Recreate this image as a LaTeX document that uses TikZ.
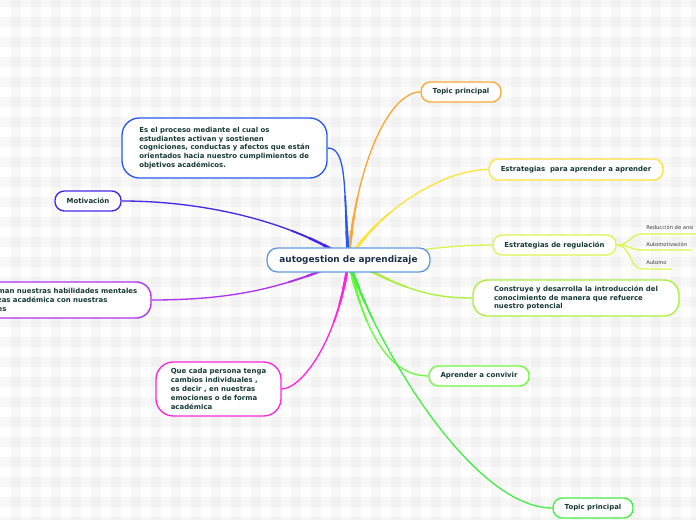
\documentclass[tikz,border=0pt]{standalone}
\usepackage{fontspec}
\setmainfont{DejaVu Sans}
\pgfdeclarelayer{grid}
\pgfdeclarelayer{edges}
\pgfsetlayers{grid,edges,main}
\definecolor{txt}{RGB}{22,58,52}
\definecolor{ctxt}{RGB}{28,48,72}
\definecolor{subtxt}{RGB}{60,60,60}
\definecolor{cblue}{RGB}{95,155,220}
\definecolor{corange}{RGB}{247,168,52}
\definecolor{cyellow}{RGB}{255,226,60}
\definecolor{clime}{RGB}{222,245,80}
\definecolor{cyg}{RGB}{170,240,60}
\definecolor{cgreen}{RGB}{110,250,60}
\definecolor{cgreen2}{RGB}{70,238,70}
\definecolor{cbl}{RGB}{40,90,240}
\definecolor{cviolet}{RGB}{70,40,230}
\definecolor{cpurple}{RGB}{175,50,240}
\definecolor{cmag}{RGB}{250,40,220}
\tikzset{
  box/.style={draw, fill=white, line width=1pt, rounded corners=7pt,
    font=\bfseries\fontsize{5.2}{6.6}\selectfont, text=txt, align=left, inner sep=0pt},
  bigbox/.style={box, rounded corners=11pt},
  link/.style={line width=1pt},
  subitem/.style={font=\fontsize{3.9}{4.6}\selectfont, text=subtxt, inner sep=0pt, anchor=base west},
}
\newcommand{\drawlinks}[1]{%
  \draw[link,#1,corange] (c.center) .. controls +(8,-100) and +(-30,0) .. (t1.west);
  \draw[link,#1,cyellow] (c.center) .. controls +(30,-50) and +(-45,0) .. (e1.west);
  \draw[link,#1,clime] (c.center) .. controls +(60,-8) and +(-50,0) .. (rg.west);
  \draw[link,#1,cyg] (c.center) .. controls +(50,25) and +(-50,0) .. (cs.west);
  \draw[link,#1,cgreen] (c.center) .. controls +(15,70) and +(-40,0) .. (ac.west);
  \draw[link,#1,cgreen2] (c.center) .. controls +(27,85) and +(-80,0) .. (t2.west);
  \draw[link,#1,cbl] (c.center) .. controls +(-5,-70) and +(20,0) .. (es.east);
  \draw[link,#1,cviolet] (c.center) .. controls +(-50,-35) and +(90,0) .. (mo.east);
  \draw[link,#1,cpurple] (c.center) .. controls +(-60,25) and +(90,0) .. (hm.east);
  \draw[link,#1,cmag] (c.center) .. controls +(-10,80) and +(20,0) .. (qc.east);
}
\begin{document}
\begin{tikzpicture}[x=0.75pt,y=-0.75pt]
\useasboundingbox (0,0) rectangle (696,520);
\clip (0,0) rectangle (696,520);
\begin{pgfonlayer}{grid}
  \fill[white] (0,0) rectangle (696,520);
  \foreach \k in {0,...,35} {
    \fill[black,opacity=0.026] ({11+20*\k},0) rectangle ({21+20*\k},520);
  }
  \foreach \k in {0,...,26} {
    \fill[black,opacity=0.026] (0,{-3+20*\k}) rectangle (696,{7+20*\k});
  }
\end{pgfonlayer}

% central node
\node[box, draw=cblue, rounded corners=8pt, minimum width=163*.75pt, minimum height=24*.75pt,
  font=\bfseries\fontsize{6.7}{8}\selectfont, text=ctxt] (c) at (348.5,260) {autogestion de aprendizaje};

% right side
\node[box, draw=corange, minimum width=80*.75pt, minimum height=20*.75pt] (t1) at (461,92) {Topic principal};
\node[box, draw=cyellow, minimum width=174*.75pt, minimum height=21*.75pt] (e1) at (576,169.5) {Estrategias\ \ para aprender a aprender};
\node[box, draw=clime, minimum width=123*.75pt, minimum height=20*.75pt] (rg) at (554.5,245) {Estrategias de regulación};
\node[bigbox, draw=cyg, minimum width=206*.75pt, minimum height=36*.75pt] (cs) at (576,298)
  {Construye y desarrolla la introducción del\\conocimiento de manera que refuerce\\nuestro potencial\hspace{6pt}};
\node[box, draw=cgreen, minimum width=100*.75pt, minimum height=20*.75pt] (ac) at (479,376) {Aprender a convivir};
\node[box, draw=cgreen2, minimum width=80*.75pt, minimum height=20*.75pt] (t2) at (593,508) {Topic principal};

% left side
\node[bigbox, draw=cbl, rounded corners=13pt, minimum width=205*.75pt, minimum height=60*.75pt] (es) at (224.5,148)
  {Es el proceso mediante el cual os\\estudiantes activan y sostienen\\cogniciones, conductas y afectos que están\\orientados hacia nuestro cumplimientos de\\objetivos académicos.};
\node[box, draw=cviolet, minimum width=66*.75pt, minimum height=20*.75pt] (mo) at (88,201) {Motivación};
\node[bigbox, draw=cpurple, minimum width=167*.75pt, minimum height=36*.75pt] (hm) at (67.5,300)
  {man nuestras habilidades mentales\\zas académica con nuestras\\es\hspace{118pt}};
\node[bigbox, draw=cmag, rounded corners=13pt, minimum width=125*.75pt, minimum height=54*.75pt] (qc) at (218.5,389)
  {Que cada persona tenga\\cambios individuales ,\\es decir , en nuestras\\emociones o de forma\\académica};

% sub-items of regulacion
\node[subitem] (s1) at (646,229.5) {Reducción de ansi};
\node[subitem] (s2) at (646,247) {Automotivación};
\node[subitem] (s3) at (646,265) {Automo};
\coordinate (u1l) at (642,234);
\coordinate (u1r) at (700,234);
\coordinate (u2l) at (642,250);
\coordinate (u2r) at (692,250);
\coordinate (u3l) at (642,269);
\coordinate (u3r) at (672,269);

\begin{pgfonlayer}{edges}
  \drawlinks{}
  \begin{scope}
    \clip (c.center) circle (48pt);
    \drawlinks{line width=1.35pt}
  \end{scope}
  \begin{scope}
    \clip (c.center) circle (34pt);
    \drawlinks{line width=1.75pt}
  \end{scope}
  \begin{scope}
    \clip (c.center) circle (22pt);
    \drawlinks{line width=2.2pt}
  \end{scope}
  \draw[link,clime] (rg.east) .. controls +(14,0) and +(-12,0) .. (u1l) -- (u1r);
  \draw[link,clime] (rg.east) .. controls +(14,0) and +(-12,0) .. (u2l) -- (u2r);
  \draw[link,clime] (rg.east) .. controls +(14,0) and +(-12,0) .. (u3l) -- (u3r);
\end{pgfonlayer}
\end{tikzpicture}
\end{document}
